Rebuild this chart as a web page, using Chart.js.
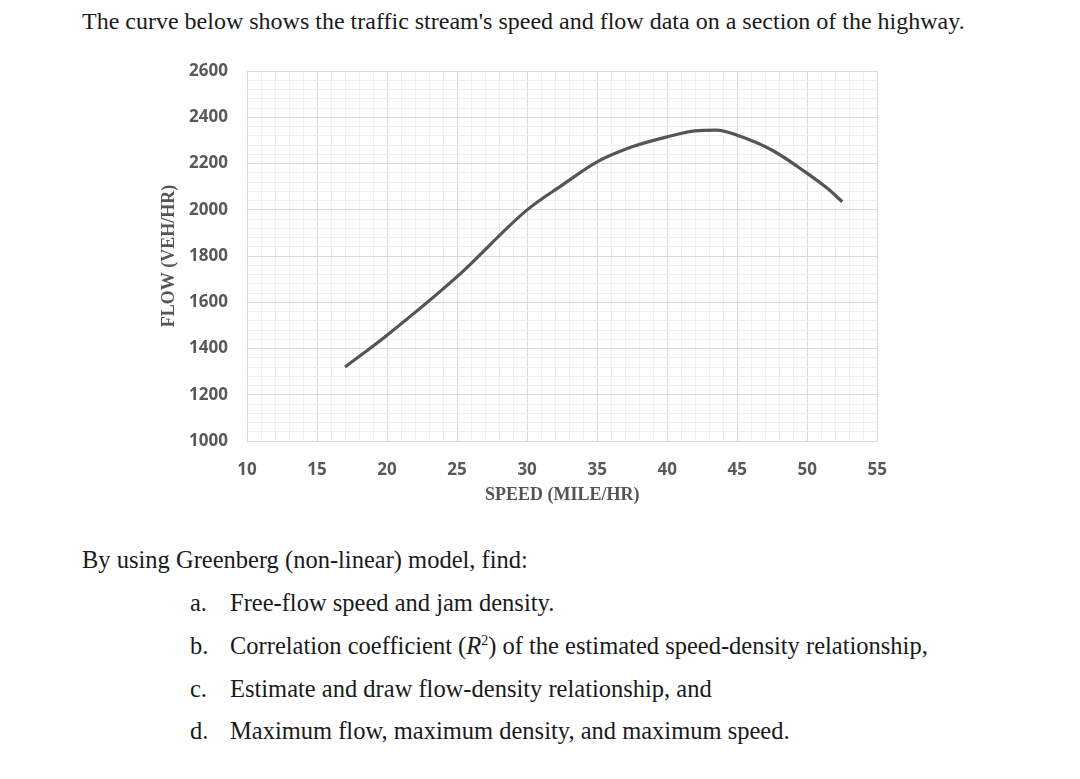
<!DOCTYPE html>
<html>
<head>
<meta charset="utf-8">
<script src="https://cdn.jsdelivr.net/npm/chart.js@4.4.1/dist/chart.umd.min.js"></script>
<style>
  html, body { margin: 0; padding: 0; background: #fff; }
  body { width: 1080px; height: 779px; position: relative; overflow: hidden; }
  .txt { position: absolute; font-family: "Liberation Serif", "Times New Roman", serif; font-size: 24.5px; line-height: 1; color: #1a1a1a; white-space: nowrap; }
  #chartBox { position: absolute; left: 140px; top: 42px; width: 766px; height: 478px; }
</style>
</head>
<body>
<div class="txt" style="left:82px; top:9px; font-size:24px;">The curve below shows the traffic stream's speed and flow data on a section of the highway.</div>

<div id="chartBox"><canvas id="flowChart" width="766" height="478"></canvas></div>

<div class="txt" style="left:82px; top:548px;">By using Greenberg (non-linear) model, find:</div>
<div class="txt" style="left:190px; top:591px;">a.</div>
<div class="txt" style="left:230px; top:591px;">Free-flow speed and jam density.</div>
<div class="txt" style="left:190px; top:634px;">b.</div>
<div class="txt" style="left:230px; top:634px;">Correlation coefficient (<i>R</i><sup style="font-size:14px;">2</sup>) of the estimated speed-density relationship,</div>
<div class="txt" style="left:190px; top:677px;">c.</div>
<div class="txt" style="left:230px; top:677px;">Estimate and draw flow-density relationship, and</div>
<div class="txt" style="left:190px; top:719px;">d.</div>
<div class="txt" style="left:230px; top:719px;">Maximum flow, maximum density, and maximum speed.</div>

<script>
// speed (mile/hr) and flow (veh/hr)
const speeds = [17, 20, 25, 30, 32.5, 35, 37.5, 40, 42, 43.5, 45, 47.5, 50, 51.5, 52.5];
const flows = [1320, 1458, 1711, 2000, 2107, 2208, 2273, 2316, 2342, 2345, 2323, 2258, 2158, 2090, 2035];

const speedTicks = [10, 15, 20, 25, 30, 35, 40, 45, 50, 55];
const flowTicks = [1000, 1200, 1400, 1600, 1800, 2000, 2200, 2400, 2600];

const points = speeds.map((s, i) => ({ x: s, y: flows[i] }));

const majorGrid = '#d9d9d9';
const minorGrid = '#efefef';
const tickFont = { family: '"Open Sans", sans-serif', size: 17, weight: 'bold' };
const titleFont = { family: '"Liberation Serif", serif', size: 18, weight: 'bold' };

const ctx = document.getElementById('flowChart').getContext('2d');
new Chart(ctx, {
    type: 'line',
    data: {
        datasets: [{
            data: points,
            borderColor: '#555555',
            borderWidth: 3.2,
            pointRadius: 0,
            fill: false,
            cubicInterpolationMode: 'monotone',
        }]
    },
    options: {
        responsive: false,
        animation: false,
        layout: { padding: { left: 19, right: 23, top: 13, bottom: 0 } },
        plugins: {
            legend: { display: false },
            tooltip: { enabled: false },
        },
        scales: {
            x: {
                type: 'linear',
                min: speedTicks[0],
                max: speedTicks[speedTicks.length - 1],
                afterFit: (axis) => { axis.height = 79; },
                border: { display: false },
                grid: {
                    drawTicks: false,
                    color: (c) => speedTicks.includes(c.tick.value) ? majorGrid : minorGrid,
                },
                ticks: {
                    stepSize: 1,
                    autoSkip: false,
                    maxRotation: 0,
                    padding: 19,
                    color: '#595959',
                    font: tickFont,
                    callback: (v) => speedTicks.includes(v) ? String(v) : '',
                },
                title: {
                    display: true,
                    text: 'SPEED (MILE/HR)',
                    color: '#555555',
                    font: titleFont,
                    padding: { top: 0, bottom: 14 },
                },
            },
            y: {
                min: flowTicks[0],
                max: flowTicks[flowTicks.length - 1],
                afterFit: (axis) => { axis.width = 88; },
                border: { display: false },
                grid: {
                    drawTicks: false,
                    color: (c) => flowTicks.includes(c.tick.value) ? majorGrid : minorGrid,
                },
                ticks: {
                    stepSize: 40,
                    autoSkip: false,
                    padding: 19,
                    color: '#595959',
                    font: tickFont,
                    callback: (v) => flowTicks.includes(v) ? String(v) : '',
                },
                title: {
                    display: true,
                    text: 'FLOW (VEH/HR)',
                    color: '#555555',
                    font: titleFont,
                    padding: { top: 0, bottom: 0 },
                },
            },
        },
    },
});
</script>
</body>
</html>
